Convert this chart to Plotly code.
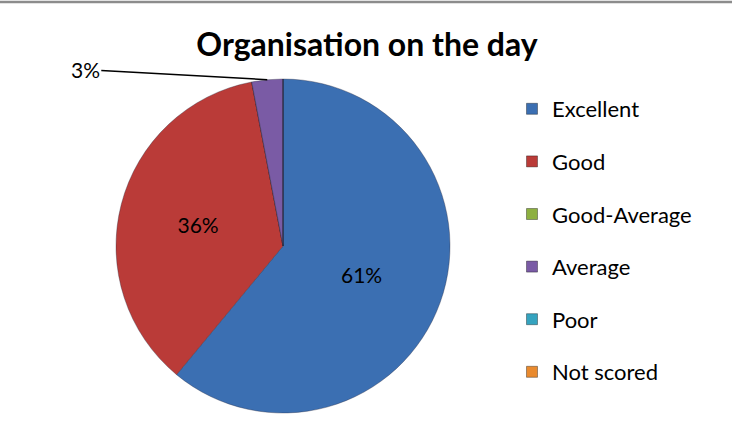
import math
import plotly.graph_objects as go

# ---- data ----
categories = ["Excellent", "Good", "Good-Average", "Average", "Poor", "Not scored"]
values = [61, 36, 0, 3, 0, 0]
colors = ["#3B6FB2", "#BA3B38", "#8DB040", "#7A5BA5", "#35A3BF", "#E98A2E"]
title_text = "Organisation on the day"

W, H = 732, 423
cx, cy, r = 283, 246, 167  # pie centre / radius in px

labels_text = [f"{v}%" if v > 0 else "" for v in values]
# the smallest slice gets an outside label with leader line
small_idx = values.index(min(v for v in values if v > 0))
inside_text = [t if i != small_idx else "" for i, t in enumerate(labels_text)]

FONT = "Lato, Carlito, sans-serif"

fig = go.Figure()
fig.add_trace(go.Pie(
    labels=categories,
    values=values,
    sort=False,
    direction="clockwise",
    rotation=0,
    marker=dict(colors=colors, line=dict(color="rgba(40,40,60,0.35)", width=1)),
    text=inside_text,
    textinfo="text",
    textposition="inside",
    insidetextorientation="horizontal",
    textfont=dict(family=FONT, size=21, color="#000000"),
    domain=dict(x=[(cx - r) / W, (cx + r) / W], y=[1 - (cy + r) / H, 1 - (cy - r) / H]),
    showlegend=False,
    hoverinfo="label+percent",
))

# legend entries (one group each so spacing can be matched)
for i, (cat, col) in enumerate(zip(categories, colors)):
    fig.add_trace(go.Scatter(
        x=[None], y=[None], mode="markers", name=cat,
        marker=dict(symbol="square", size=11, color=col,
                    line=dict(color="rgba(0,0,0,0.35)", width=1)),
        legendgroup=f"g{i}", showlegend=True,
    ))

# leader line for small slice, position from data
total = sum(values)
cum = sum(values[:small_idx]) + values[small_idx] / 2
theta = cum / total * 2 * math.pi
px_ = cx + r * math.sin(theta)
py_ = cy - r * math.cos(theta)
fig.add_annotation(
    x=px_ / W, y=1 - py_ / H, xref="paper", yref="paper",
    text=labels_text[small_idx], showarrow=True, arrowhead=0, arrowwidth=1.5,
    arrowcolor="#000000", ax=-182, ay=-10, standoff=0,
    font=dict(family=FONT, size=21, color="#000000"),
)

fig.add_shape(type="line", xref="paper", yref="paper", x0=0, x1=1,
              y0=1 - 2 / H, y1=1 - 2 / H, line=dict(color="#8C8C8C", width=2.5))

fig.update_layout(
    width=W, height=H,
    margin=dict(l=0, r=0, t=0, b=0),
    paper_bgcolor="#FFFFFF", plot_bgcolor="#FFFFFF",
    title=dict(text=f"<b>{title_text}</b>", x=367 / W, xanchor="center",
               y=1 - 45 / H, yanchor="middle",
               font=dict(family=FONT, size=32, color="#000000")),
    xaxis=dict(visible=False), yaxis=dict(visible=False),
    legend=dict(x=512 / W, xanchor="left", y=1 - 88 / H, yanchor="top",
                font=dict(family=FONT, size=22, color="#000000"),
                tracegroupgap=21, bgcolor="rgba(0,0,0,0)", itemsizing="trace"),
)

fig.write_html("out.html", config={"displayModeBar": False},
               post_script="document.body.style.margin='0';document.body.style.padding='0';")
